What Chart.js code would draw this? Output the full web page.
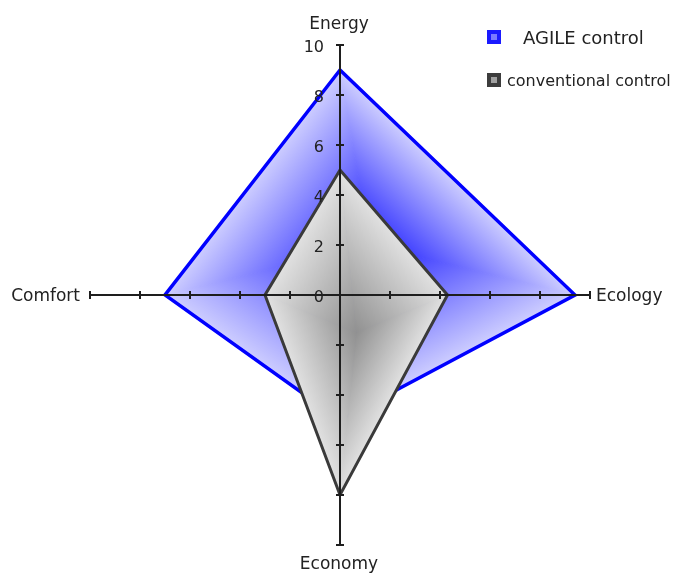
<!DOCTYPE html>
<html><head><meta charset="utf-8">
<style>html,body{margin:0;padding:0;background:#fff;overflow:hidden}</style>
<script src="https://cdn.jsdelivr.net/npm/chart.js@4.4.1/dist/chart.umd.min.js"></script>
</head><body>
<canvas id="c" width="673" height="574" style="width:673px;height:574px;display:block"></canvas>
<script>
const categories = ['Energy', 'Ecology', 'Economy', 'Comfort'];
const agileValues = [9, 9.4, 5, 7];
const conventionalValues = [5, 4.3, 8, 3];
const seriesNames = ['AGILE control', 'conventional control'];
const tickValues = [0, 2, 4, 6, 8, 10];
const tickLabels = ['0', '2', '4', '6', '8', '10'];

const FONT = '"DejaVu Sans", Verdana, sans-serif';
const TEXT = '#222222';

const gradFills = {
  0: { inner: 'rgb(30,30,255)', outer: 'rgb(205,205,255)' },
  1: { inner: 'rgb(145,145,145)', outer: 'rgb(225,225,225)' }
};

const pathGradientPlugin = {
  id: 'pathGradient',
  beforeDatasetDraw(chart, args) {
    const spec = gradFills[args.index];
    if (!spec) return;
    const pts = args.meta.data.map(p => ({ x: p.x, y: p.y }));
    const xs = pts.map(p => p.x), ys = pts.map(p => p.y);
    const c = { x: (Math.min(...xs) + Math.max(...xs)) / 2, y: (Math.min(...ys) + Math.max(...ys)) / 2 };
    const ctx = chart.ctx;
    ctx.save();
    const n = pts.length;
    for (let i = 0; i < n; i++) {
      const a = pts[i], b = pts[(i + 1) % n];
      const dx = b.x - a.x, dy = b.y - a.y;
      const t = ((c.x - a.x) * dx + (c.y - a.y) * dy) / (dx * dx + dy * dy);
      const f = { x: a.x + t * dx, y: a.y + t * dy };
      const g = ctx.createLinearGradient(c.x, c.y, f.x, f.y);
      g.addColorStop(0, spec.inner);
      g.addColorStop(1, spec.outer);
      ctx.beginPath();
      ctx.moveTo(c.x, c.y); ctx.lineTo(a.x, a.y); ctx.lineTo(b.x, b.y); ctx.closePath();
      ctx.fillStyle = g; ctx.fill();
      ctx.strokeStyle = g; ctx.lineWidth = 1; ctx.stroke();
    }
    ctx.restore();
  }
};

const axesPlugin = {
  id: 'axesOverlay',
  afterDatasetsDraw(chart) {
    const s = chart.scales.r;
    const ctx = chart.ctx;
    const R = s.getDistanceFromCenterForValue(s.max);
    ctx.save();
    ctx.lineWidth = 2;
    ctx.strokeStyle = '#1e1e1e';
    for (let i = 0; i < categories.length; i++) {
      const end = s.getPointPosition(i, R);
      ctx.beginPath();
      ctx.moveTo(s.xCenter, s.yCenter);
      ctx.lineTo(end.x, end.y);
      ctx.stroke();
      const ang = Math.atan2(end.y - s.yCenter, end.x - s.xCenter);
      const px = -Math.sin(ang), py = Math.cos(ang);
      tickValues.forEach(v => {
        if (v === 0) return;
        const p = s.getPointPosition(i, s.getDistanceFromCenterForValue(v));
        ctx.beginPath();
        ctx.moveTo(p.x - px * 4, p.y - py * 4);
        ctx.lineTo(p.x + px * 4, p.y + py * 4);
        ctx.stroke();
      });
    }
    ctx.fillStyle = TEXT;
    ctx.font = '16px ' + FONT;
    ctx.textAlign = 'right';
    ctx.textBaseline = 'alphabetic';
    tickValues.forEach((v, k) => {
      const p = s.getPointPosition(0, s.getDistanceFromCenterForValue(v));
      ctx.fillText(tickLabels[k], p.x - 16, p.y + 7);
    });
    ctx.restore();
  },
  afterDraw(chart) {
    const s = chart.scales.r;
    const ctx = chart.ctx;
    const R = s.getDistanceFromCenterForValue(s.max);
    ctx.save();
    ctx.fillStyle = TEXT;
    ctx.font = '17px ' + FONT;
    ctx.textBaseline = 'alphabetic';
    const top = s.getPointPosition(0, R);
    ctx.textAlign = 'center';
    ctx.fillText(categories[0], top.x - 1, top.y - 16);
    const right = s.getPointPosition(1, R);
    ctx.textAlign = 'left';
    ctx.fillText(categories[1], right.x + 6, right.y + 6);
    const bottom = s.getPointPosition(2, R);
    ctx.textAlign = 'center';
    ctx.fillText(categories[2], bottom.x - 1, bottom.y + 24);
    const left = s.getPointPosition(3, R);
    ctx.textAlign = 'right';
    ctx.fillText(categories[3], left.x - 10, left.y + 6);

    const lx = 487;
    ctx.fillStyle = '#1a1aff';
    ctx.fillRect(lx, 30, 14, 14);
    ctx.fillStyle = '#7a7aff';
    ctx.fillRect(lx + 4, 34, 6, 6);
    ctx.fillStyle = '#3c3c3c';
    ctx.fillRect(lx, 73, 14, 14);
    ctx.fillStyle = '#a0a0a0';
    ctx.fillRect(lx + 4, 77, 6, 6);
    ctx.fillStyle = TEXT;
    ctx.textAlign = 'left';
    ctx.font = '18px ' + FONT;
    ctx.fillText(seriesNames[0], 523, 44);
    ctx.font = '16px ' + FONT;
    ctx.fillText(seriesNames[1], 507, 86);
    ctx.restore();
  }
};

new Chart(document.getElementById('c'), {
  type: 'radar',
  data: {
    labels: categories,
    datasets: [
      {
        label: seriesNames[0],
        data: agileValues,
        order: 2,
        fill: false,
        backgroundColor: 'rgba(0,0,0,0)',
        borderColor: '#0000ff',
        borderWidth: 3.5,
        borderJoinStyle: 'miter',
        pointRadius: 0,
        pointHoverRadius: 0
      },
      {
        label: seriesNames[1],
        data: conventionalValues,
        order: 1,
        fill: false,
        backgroundColor: 'rgba(0,0,0,0)',
        borderColor: '#3a3a3a',
        borderWidth: 3,
        borderJoinStyle: 'miter',
        pointRadius: 0,
        pointHoverRadius: 0
      }
    ]
  },
  options: {
    responsive: false,
    animation: false,
    devicePixelRatio: 1,
    layout: { padding: { left: 90, right: 83, top: 45, bottom: 29 } },
    plugins: { legend: { display: false }, tooltip: { enabled: false } },
    scales: {
      r: {
        min: 0, max: 10, startAngle: 0,
        ticks: { display: false, stepSize: 2 },
        grid: { display: false },
        angleLines: { display: false },
        pointLabels: { display: false }
      }
    }
  },
  plugins: [pathGradientPlugin, axesPlugin]
});
</script>
</body></html>
